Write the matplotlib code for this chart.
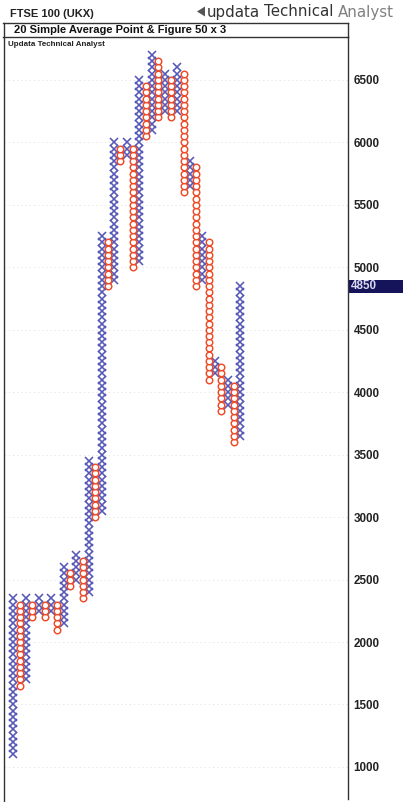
import matplotlib
matplotlib.use("Agg")
import matplotlib.pyplot as plt
from matplotlib.lines import Line2D
from matplotlib.patches import Rectangle, Polygon

plt.rcParams['font.family'] = ['Liberation Sans', 'DejaVu Sans']

# Point & Figure data: box size 50, reversal 3
box_size = 50
col_types = ['X', 'O', 'X', 'O', 'X', 'O', 'X', 'O', 'X', 'O',
             'X', 'O', 'X', 'O', 'X', 'O', 'X', 'O', 'X', 'O',
             'X', 'O', 'X', 'O', 'X', 'O', 'X', 'O', 'X', 'O',
             'X', 'O', 'X', 'O', 'X', 'O', 'X']
col_low = [1100, 1650, 1700, 2200, 2250, 2200, 2250, 2100, 2150, 2450,
           2500, 2350, 2400, 3000, 3050, 4850, 4900, 5850, 5900, 5000,
           5050, 6050, 6100, 6200, 6250, 6200, 6250, 5600, 5650, 4850,
           4900, 4100, 4150, 3850, 3900, 3600, 3650]
col_high = [2350, 2300, 2350, 2300, 2350, 2300, 2350, 2300, 2600, 2550,
            2700, 2650, 3450, 3400, 5250, 5200, 6000, 5950, 6000, 5950,
            6500, 6450, 6700, 6650, 6550, 6500, 6600, 6550, 5850, 5800,
            5250, 5200, 4250, 4200, 4100, 4050, 4850]
y_ticks = [1000, 1500, 2000, 2500, 3000, 3500, 4000, 4500, 5000, 5500, 6000, 6500]
last_price = 4850

W, H = 403, 802
fig = plt.figure(figsize=(W / 100, H / 100), dpi=100)
fig.patch.set_facecolor('white')

def fx(px):
    return px / W

def fy(py):
    return 1 - py / H

# main axes
ax_left, ax_right, ax_top, ax_bot = 4, 348, 37, 799
ylo, yhi = 743, 6844
ax = fig.add_axes([fx(ax_left), fy(ax_bot), fx(ax_right - ax_left), fy(ax_top) - fy(ax_bot)])
ax.set_facecolor('white')

xs_x, ys_x, xs_o, ys_o = [], [], [], []
for i, (t, lo, hi) in enumerate(zip(col_types, col_low, col_high)):
    v = lo
    while v <= hi:
        if t == 'X':
            xs_x.append(i); ys_x.append(v)
        else:
            xs_o.append(i); ys_o.append(v)
        v += box_size

ax.plot(xs_x, ys_x, linestyle='none', marker='x', markersize=5.2,
        markeredgewidth=1.15, color='#5658b8')
ax.plot(xs_o, ys_o, linestyle='none', marker='o', markersize=4.7,
        markeredgewidth=1.05, markerfacecolor='white', markeredgecolor='#ee4a26')

ax.set_xlim(-1.48, 53.1)
ax.set_ylim(ylo, yhi)

for yt in y_ticks:
    ax.axhline(yt, color='#e6e6e6', linestyle=(0, (2, 3)), linewidth=0.6, zorder=0)

ax.yaxis.tick_right()
ax.set_yticks(y_ticks)
ax.set_yticklabels([str(t) for t in y_ticks], fontsize=8.4, fontweight='bold', color='#222222')
ax.tick_params(axis='y', length=0, pad=4)
ax.set_xticks([])
for s in ['top', 'bottom', 'left']:
    ax.spines[s].set_visible(False)
ax.spines['right'].set_color('#333333')
ax.spines['right'].set_linewidth(1.0)

# last price label (box behind the axes, text on top)
ly = fy(ax_bot) + (last_price - ylo) / (yhi - ylo) * (fy(ax_top) - fy(ax_bot))
fig.add_artist(Rectangle((fx(349), ly - 6.5 / H), fx(54), 13 / H, transform=fig.transFigure,
                         facecolor='#15135a', edgecolor='none', zorder=-1))
ax.annotate(str(last_price), xy=(1.0, last_price), xycoords=('axes fraction', 'data'),
            xytext=(2.2, 0), textcoords='offset points', ha='left', va='center',
            fontsize=8.4, fontweight='bold', color='#d8d8f0', annotation_clip=False,
            zorder=10)

# frames
lc = '#333333'
fig.add_artist(Line2D([fx(3), fx(348)], [fy(22.5), fy(22.5)], color=lc, lw=1.0))
fig.add_artist(Line2D([fx(3), fx(348)], [fy(37), fy(37)], color=lc, lw=1.0))
fig.add_artist(Line2D([fx(3.5), fx(3.5)], [fy(22.5), fy(801)], color=lc, lw=1.0))
fig.add_artist(Line2D([fx(348), fx(348)], [fy(22.5), fy(37)], color=lc, lw=1.0))

# header texts
fig.text(fx(10), fy(14), 'FTSE 100 (UKX)', fontsize=8, fontweight='bold',
         color='#222222', ha='left', va='center')
fig.add_artist(Polygon([[fx(197), fy(11.5)], [fx(205), fy(6.5)], [fx(205), fy(16.5)]],
                       closed=True, transform=fig.transFigure,
                       facecolor='#555555', edgecolor='none'))

renderer = fig.canvas.get_renderer()
x0 = 207
for word, col in [('updata', '#333333'), ('Technical', '#333333'), ('Analyst', '#808080')]:
    t = fig.text(fx(x0), fy(12), word, fontsize=10.8, family='DejaVu Sans', color=col,
                 ha='left', va='center')
    bb = t.get_window_extent(renderer=renderer)
    x0 += bb.width + 4

fig.text(fx(14), fy(30), '20 Simple Average Point & Figure 50 x 3', fontsize=8,
         fontweight='bold', color='#111111', ha='left', va='center')
fig.text(fx(8), fy(45), 'Updata Technical Analyst', fontsize=5.8, fontweight='bold',
         color='#222222', ha='left', va='center')

fig.savefig('out.png', dpi=100, facecolor='white')
